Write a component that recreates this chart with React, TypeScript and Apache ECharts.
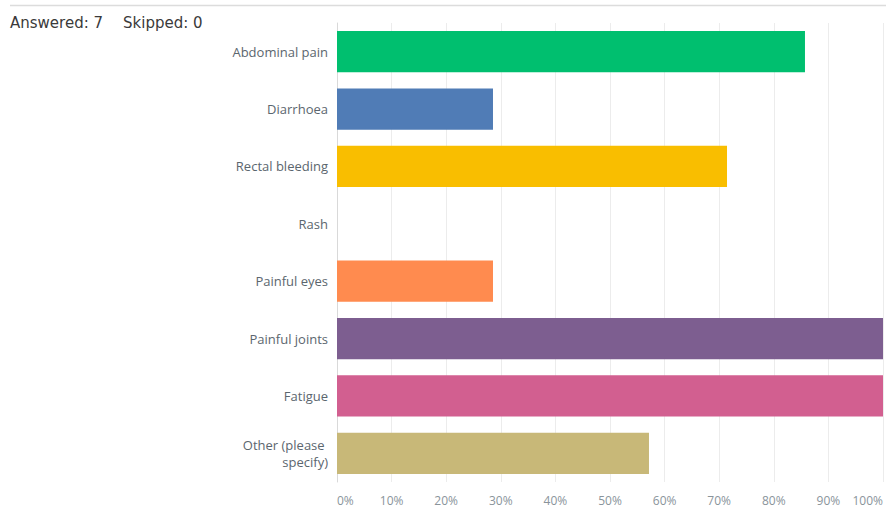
import React, { useEffect, useRef } from "react";
import * as echarts from "echarts";

const categories = [
  "Abdominal pain",
  "Diarrhoea",
  "Rectal bleeding",
  "Rash",
  "Painful eyes",
  "Painful joints",
  "Fatigue",
  "Other (please specify)",
];
const values = [85.71, 28.57, 71.43, 0, 28.57, 100, 100, 57.14];
const colors = ["#00bf6f", "#507cb6", "#f9be00", "#6bc8cd", "#ff8b4f", "#7d5e90", "#d25f90", "#c8b878"];
const answered = 7;
const skipped = 0;

export default function App() {
  const ref = useRef<HTMLDivElement>(null);
  useEffect(() => {
    if (!ref.current) return;
    const chart = echarts.init(ref.current, undefined, { renderer: "svg" });
    chart.setOption({
      animation: false,
      backgroundColor: "#ffffff",
      grid: { left: 337, right: 1, top: 23, bottom: 25, containLabel: false },
      graphic: [
        {
          type: "line",
          shape: { x1: 10, y1: 5.5, x2: 886, y2: 5.5 },
          style: { stroke: "#dcdcdc", lineWidth: 1.5 },
        },
        {
          type: "text",
          x: 10,
          y: 23,
          style: {
            text: `Answered: ${answered}`,
            font: "15px 'DejaVu Sans', sans-serif",
            fill: "#3a3a3a",
            verticalAlign: "middle",
          },
        },
        {
          type: "text",
          x: 123,
          y: 23,
          style: {
            text: `Skipped: ${skipped}`,
            font: "15px 'DejaVu Sans', sans-serif",
            fill: "#3a3a3a",
            verticalAlign: "middle",
          },
        },
      ],
      xAxis: {
        type: "value",
        min: 0,
        max: 100,
        interval: 10,
        axisLine: { show: false },
        axisTick: { show: false },
        splitLine: { show: true, lineStyle: { color: "#ececec", width: 1 } },
        axisLabel: {
          formatter: "{value}%",
          color: "#8a949b",
          fontSize: 12,
          fontFamily: "'Open Sans', sans-serif",
          margin: 12,
          alignMinLabel: "left",
          alignMaxLabel: "right",
        },
      },
      yAxis: {
        type: "category",
        data: categories,
        inverse: true,
        axisLine: { show: true, lineStyle: { color: "#d9d9d9", width: 1 } },
        axisTick: { show: false },
        splitLine: { show: false },
        axisLabel: {
          color: "#5b666e",
          fontSize: 13,
          fontFamily: "'Open Sans', sans-serif",
          margin: 9,
          width: 110,
          overflow: "break",
          lineHeight: 17,
          align: "right",
        },
      },
      series: [
        {
          type: "bar",
          barCategoryGap: "28%",
          data: values.map((v, i) => ({
            value: v,
            itemStyle: { color: colors[i] },
          })),
        },
      ],
    });
    return () => chart.dispose();
  }, []);
  return (
    <div
      ref={ref}
      style={{ position: "absolute", left: 0, top: 0, width: 886, height: 507 }}
    />
  );
}
